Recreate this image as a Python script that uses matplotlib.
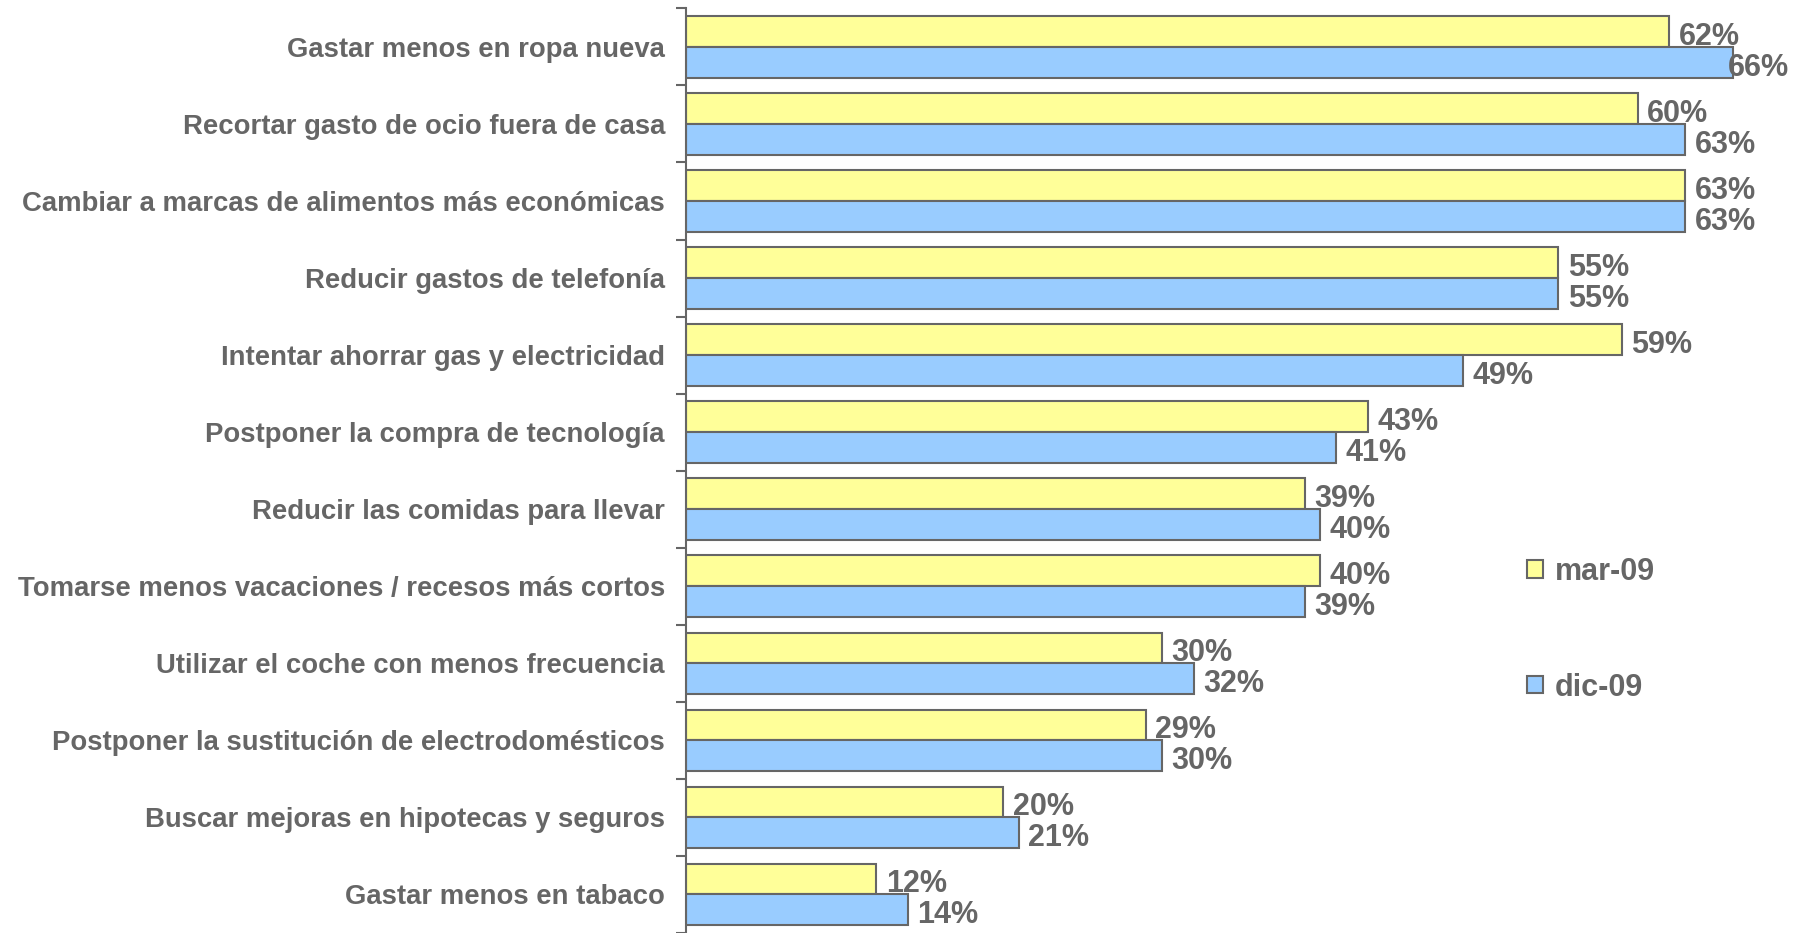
import numpy as np
import matplotlib.pyplot as plt

categorias = [
    "Gastar menos en ropa nueva",
    "Recortar gasto de ocio fuera de casa",
    "Cambiar a marcas de alimentos más económicas",
    "Reducir gastos de telefonía",
    "Intentar ahorrar gas y electricidad",
    "Postponer la compra de tecnología",
    "Reducir las comidas para llevar",
    "Tomarse menos vacaciones / recesos más cortos",
    "Utilizar el coche con menos frecuencia",
    "Postponer la sustitución de electrodomésticos",
    "Buscar mejoras en hipotecas y seguros",
    "Gastar menos en tabaco",
]
mar_09 = [62, 60, 63, 55, 59, 43, 39, 40, 30, 29, 20, 12]
dic_09 = [66, 63, 63, 55, 49, 41, 40, 39, 32, 30, 21, 14]
series = ["mar-09", "dic-09"]

gris = "#666666"
plt.rcParams["font.family"] = ["Liberation Sans", "DejaVu Sans"]
plt.rcParams["font.weight"] = "bold"

fig = plt.figure(figsize=(18, 9.33), dpi=100)
ax = fig.add_axes([0.381, 0.0, 0.617, 0.991])

y = np.arange(len(categorias))
h = 0.4
xmax = 70
b1 = ax.barh(y - h / 2, mar_09, height=h, color="#FFFF99", edgecolor=gris, linewidth=1.5, label=series[0])
b2 = ax.barh(y + h / 2, dic_09, height=h, color="#99CCFF", edgecolor=gris, linewidth=1.5, label=series[1])

# etiquetas de valor (se desplazan a la izquierda si no caben)
for bars, vals in ((b1, mar_09), (b2, dic_09)):
    for rect, v in zip(bars, vals):
        ax.text(min(v + 0.6, xmax - 4.3), rect.get_y() + rect.get_height() / 2 + 0.07, f"{v}%",
                va="center", ha="left", fontsize=22, color=gris, fontweight="bold")

ax.set_xlim(0, xmax)
ax.set_ylim(len(categorias) - 0.5, -0.5)
ax.set_yticks(y)
ax.set_yticklabels(categorias, fontsize=19.8, color=gris, fontweight="bold")
ax.tick_params(axis="y", which="major", length=0, pad=15)
ax.set_yticks(np.arange(len(categorias) + 1) - 0.5, minor=True)
ax.tick_params(axis="y", which="minor", length=7, width=1.5, color=gris, direction="out")
ax.set_xticks([])

for s in ("top", "right", "bottom"):
    ax.spines[s].set_visible(False)
ax.spines["left"].set_color(gris)
ax.spines["left"].set_linewidth(1.5)

leg = ax.legend(loc="center left", bbox_to_anchor=(0.733, 0.328), frameon=False,
                fontsize=22, labelspacing=2.8, handlelength=0.5, handleheight=0.5,
                handletextpad=0.4, labelcolor=gris)

fig.savefig("out.png", dpi=100)
